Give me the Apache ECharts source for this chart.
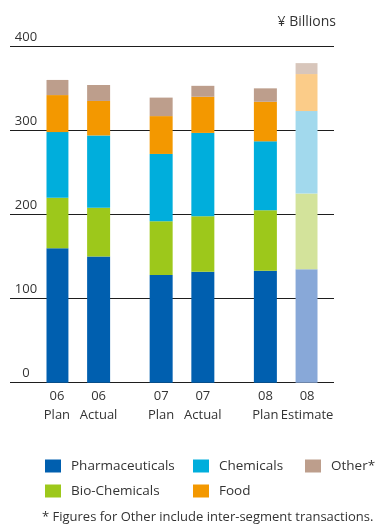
<!DOCTYPE html>
<html>
<head>
<meta charset="utf-8">
<script src="https://cdn.jsdelivr.net/npm/echarts@6/dist/echarts.min.js"></script>
<style>
  html, body { margin: 0; padding: 0; background: #ffffff; }
  #chart { width: 379px; height: 526px; }
</style>
</head>
<body>
<div id="chart"></div>
<script>
// Segment sales, ¥ billions
const years = ['06', '06', '07', '07', '08', '08'];
const kinds = ['Plan', 'Actual', 'Plan', 'Actual', 'Plan', 'Estimate'];
const pharmaceuticals = [160, 150, 128, 132, 133, 135];
const bioChemicals    = [60, 58, 64, 66, 72, 90];
const chemicals       = [78, 86, 80, 99, 82, 98];
const food            = [44, 41, 45, 43, 47, 44];
const other           = [18, 19, 22, 13, 16, 13];
const yTicks = [0, 100, 200, 300, 400];

const FONT = '"Open Sans", "Noto Sans", sans-serif';
const TEXT = '#333333';

const segments = [
  { name: 'Pharmaceuticals', values: pharmaceuticals, color: '#005faf', light: '#88a8d8' },
  { name: 'Bio-Chemicals',   values: bioChemicals,    color: '#9dc81b', light: '#d3e39b' },
  { name: 'Chemicals',       values: chemicals,       color: '#00aedc', light: '#a2d9ed' },
  { name: 'Food',            values: food,            color: '#f39800', light: '#fbcc89' },
  { name: 'Other*',          values: other,           color: '#bd9e8c', light: '#d8c6bb' }
];

// Category slots: one empty slot between bars of a year, two between years
const slots = [];
const slotOfBar = [];
let gapId = 0;
years.forEach((y, i) => {
  if (i > 0) {
    const gaps = years[i - 1] === y ? 1 : 2;
    for (let g = 0; g < gaps; g++) slots.push('gap' + (gapId++));
  }
  slotOfBar.push(slots.length);
  slots.push(y + '\n' + kinds[i]);
});

const series = segments.map(seg => {
  const data = slots.map(() => null);
  seg.values.forEach((v, i) => {
    data[slotOfBar[i]] = kinds[i] === 'Estimate'
      ? { value: v, itemStyle: { color: seg.light } }
      : v;
  });
  return {
    name: seg.name,
    type: 'bar',
    stack: 'total',
    xAxisIndex: 1,
    yAxisIndex: 1,
    barWidth: 23,
    itemStyle: { color: seg.color },
    emphasis: { disabled: true },
    data: data
  };
});

const legendCommon = {
  orient: 'vertical',
  icon: 'rect',
  itemWidth: 16,
  itemHeight: 13,
  itemGap: 11,
  padding: 0,
  top: 459,
  selectedMode: false,
  textStyle: { fontFamily: FONT, fontSize: 13.5, color: TEXT, padding: [0, 0, 0, 5] }
};

const yMin = yTicks[0], yMax = yTicks[yTicks.length - 1];
const yStep = yTicks[1] - yTicks[0];

const option = {
  animation: false,
  backgroundColor: '#ffffff',
  title: {
    text: '¥ Billions',
    right: 43,
    top: 15,
    padding: 0,
    textStyle: { fontFamily: FONT, fontSize: 14, fontWeight: 'normal', color: TEXT }
  },
  grid: [
    // ruled value scale spanning the full chart width
    { left: 10, right: 45, top: 46.3, bottom: 143.3 },
    // bars
    { left: 46.5, width: 271, top: 46.3, bottom: 143.3 }
  ],
  xAxis: [
    { type: 'value', gridIndex: 0, show: false, min: 0, max: 1 },
    {
      type: 'category',
      gridIndex: 1,
      data: slots,
      axisLine: { show: false },
      axisTick: { show: false },
      axisLabel: {
        interval: 0,
        margin: 4,
        fontFamily: FONT,
        fontSize: 13,
        lineHeight: 19,
        color: TEXT,
        formatter: v => (v.indexOf('gap') === 0 ? '' : v)
      }
    }
  ],
  yAxis: [
    {
      type: 'value',
      gridIndex: 0,
      min: yMin, max: yMax, interval: yStep,
      axisLine: { show: false },
      axisTick: { show: false },
      splitLine: { show: true, lineStyle: { color: '#1e1e1e', width: 1 } },
      axisLabel: {
        inside: true,
        align: 'center',
        verticalAlign: 'bottom',
        margin: 16,
        lineHeight: 14,
        padding: [0, 0, 2, 0],
        fontFamily: FONT,
        fontSize: 13,
        color: TEXT
      }
    },
    {
      type: 'value',
      gridIndex: 1,
      min: yMin, max: yMax, interval: yStep,
      show: false
    }
  ],
  legend: [
    Object.assign({}, legendCommon, { left: 45, data: ['Pharmaceuticals', 'Bio-Chemicals'] }),
    Object.assign({}, legendCommon, { left: 193, data: ['Chemicals', 'Food'] }),
    Object.assign({}, legendCommon, { left: 305, data: ['Other*'] })
  ],
  graphic: [
    {
      type: 'text',
      left: 42,
      top: 511,
      style: {
        text: '* Figures for Other include inter-segment transactions.',
        fontFamily: FONT,
        fontSize: 13,
        fill: TEXT
      }
    }
  ],
  series: series
};

const chart = echarts.init(document.getElementById('chart'), null, { renderer: 'canvas' });
chart.setOption(option);
</script>
</body>
</html>
